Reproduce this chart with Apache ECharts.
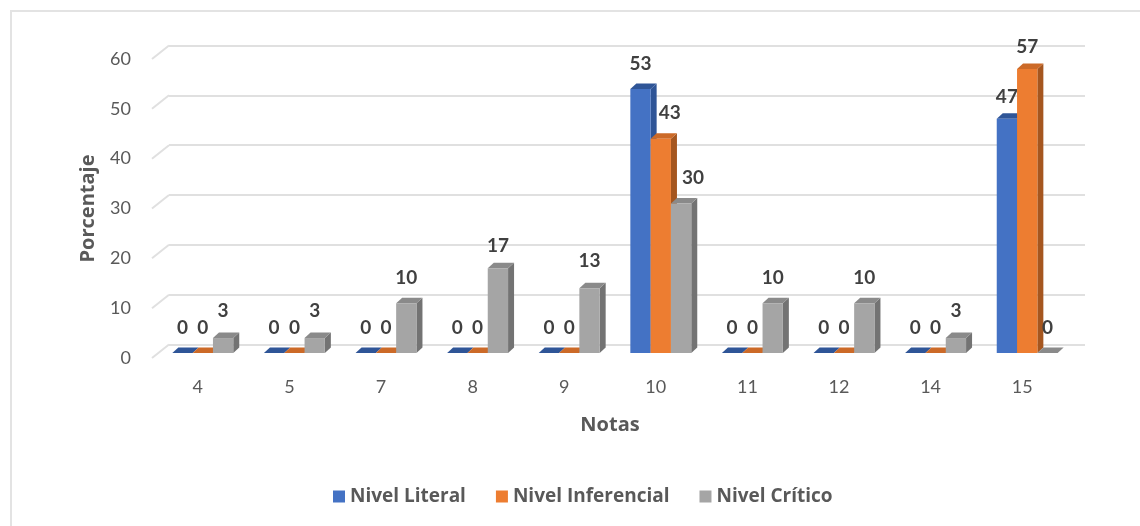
<!DOCTYPE html>
<html><head><meta charset="utf-8">
<style>html,body{margin:0;padding:0;background:#fff}#c{width:1140px;height:526px}</style>
<script src="https://cdn.jsdelivr.net/npm/echarts@6/dist/echarts.min.js"></script>
</head><body><div id="c"></div>
<script>
const categories = ['4','5','7','8','9','10','11','12','14','15'];
const nivelLiteral = [0,0,0,0,0,53,0,0,0,47];
const nivelInferencial = [0,0,0,0,0,43,0,0,0,57];
const nivelCritico = [3,3,10,17,13,30,10,10,3,0];
const yTicks = [0,10,20,30,40,50,60];

const FONT = 'Lato';
const TITLEFONT = '"Open Sans"';
const TEXT = '#595959';
const DEPTH = {x:6, y:5.5};
const SHIFT = {x:5, y:-5};
const BARFRAC = 0.2217;
const WALL = {x:17, y:-13.5};

function barSeries(name, values, slot, cols, nudgeX, nudgeY){
  return {
    name, type:'custom', xAxisIndex:1, yAxisIndex:1, z:3+slot,
    itemStyle:{color:cols[0]},
    encode:{x:0,y:1},
    data: values.map((v,i)=>[i,v]),
    renderItem(params, api){
      const i = api.value(0), v = api.value(1);
      const base = api.coord([i,0]), top = api.coord([i,v]);
      const w = api.size([1,0])[0]*BARFRAC;
      const x0 = base[0]+SHIFT.x + (slot-1.5)*w, x1 = x0+w;
      const yb = base[1]+SHIFT.y, yt = top[1]+SHIFT.y;
      const d = DEPTH;
      const children = [
        {type:'polygon',shape:{points:[[x1,yt],[x1+d.x,yt-d.y],[x1+d.x,yb-d.y],[x1,yb]]},style:{fill:cols[1]}},
        {type:'polygon',shape:{points:[[x0,yt],[x0+d.x,yt-d.y],[x1+d.x,yt-d.y],[x1,yt]]},style:{fill:cols[2]}}
      ];
      if(v>0) children.push({type:'rect',shape:{x:x0,y:yt,width:w,height:yb-yt},style:{fill:cols[0]}});
      children.push({type:'text',z2:50,style:{text:String(v),x:(x0+x1)/2+(nudgeX[i]||0),y:yt-d.y-20+(nudgeY[i]||0),
        align:'center',verticalAlign:'middle',font:'bold 19px '+FONT,fill:'#404040'}});
      return {type:'group',children};
    }
  };
}

const option = {
  animation:false,
  backgroundColor:'#fff',
  graphic:[
    {type:'line',silent:true,shape:{x1:10,y1:11,x2:1140,y2:11},style:{stroke:'#e3e3e3',lineWidth:2}},
    {type:'line',silent:true,shape:{x1:11,y1:10,x2:11,y2:526},style:{stroke:'#e3e3e3',lineWidth:2}}
  ],
  grid:[
    {left:152+WALL.x,top:59+WALL.y,width:916,height:299},
    {left:152,top:59,width:916,height:299}
  ],
  xAxis:[
    {gridIndex:0,type:'category',data:categories,axisLine:{show:false},axisTick:{show:false},axisLabel:{show:false}},
    {gridIndex:1,type:'category',data:categories,axisLine:{show:false},axisTick:{show:false},
     axisLabel:{color:TEXT,fontFamily:FONT,fontSize:18,margin:20},
     name:'Notas',nameLocation:'middle',nameGap:57,
     nameTextStyle:{color:TEXT,fontFamily:TITLEFONT,fontSize:20,fontWeight:'bold'}}
  ],
  yAxis:[
    {gridIndex:0,type:'value',min:0,max:60,interval:10,axisLine:{show:false},axisTick:{show:false},axisLabel:{show:false},
     splitLine:{show:true,lineStyle:{color:'#e0e0e0',width:2}}},
    {gridIndex:1,type:'value',min:0,max:60,interval:10,axisLine:{show:false},axisTick:{show:false},splitLine:{show:false},
     axisLabel:{color:TEXT,fontFamily:FONT,fontSize:18,margin:21,padding:[0,0,4,0]},
     name:'Porcentaje',nameLocation:'middle',nameGap:54,nameRotate:90,
     nameTextStyle:{color:TEXT,fontFamily:TITLEFONT,fontSize:20,fontWeight:'bold'}}
  ],
  legend:{
    left:328,top:482,itemWidth:12,itemHeight:12,itemGap:30,icon:'rect',
    data:['Nivel Literal','Nivel Inferencial','Nivel Crítico'],
    textStyle:{color:TEXT,fontFamily:TITLEFONT,fontSize:19,fontWeight:'bold'}
  },
  series:[
    {type:'custom',xAxisIndex:1,yAxisIndex:1,silent:true,z:1,
     data:yTicks.map(t=>[0,t]),
     renderItem(params,api){
       const p = api.coord([0,api.value(1)]);
       const x = p[0]-api.size([1,0])[0]/2;
       return {type:'line',shape:{x1:x,y1:p[1],x2:x+WALL.x,y2:p[1]+WALL.y},style:{stroke:'#e0e0e0',lineWidth:2}};
     }},
    barSeries('Nivel Literal',nivelLiteral,0,['#4472C4','#2F5597','#2F5597'],{},{9:4}),
    barSeries('Nivel Inferencial',nivelInferencial,1,['#ED7D31','#A5561F','#CC6A28'],{5:9},{9:3}),
    barSeries('Nivel Crítico',nivelCritico,2,['#A5A5A5','#737373','#8A8A8A'],{5:12},{0:-2,1:-2,3:3,4:-2,8:-2})
  ]
};
echarts.init(document.getElementById('c'),null,{renderer:'canvas'}).setOption(option);
</script></body></html>
